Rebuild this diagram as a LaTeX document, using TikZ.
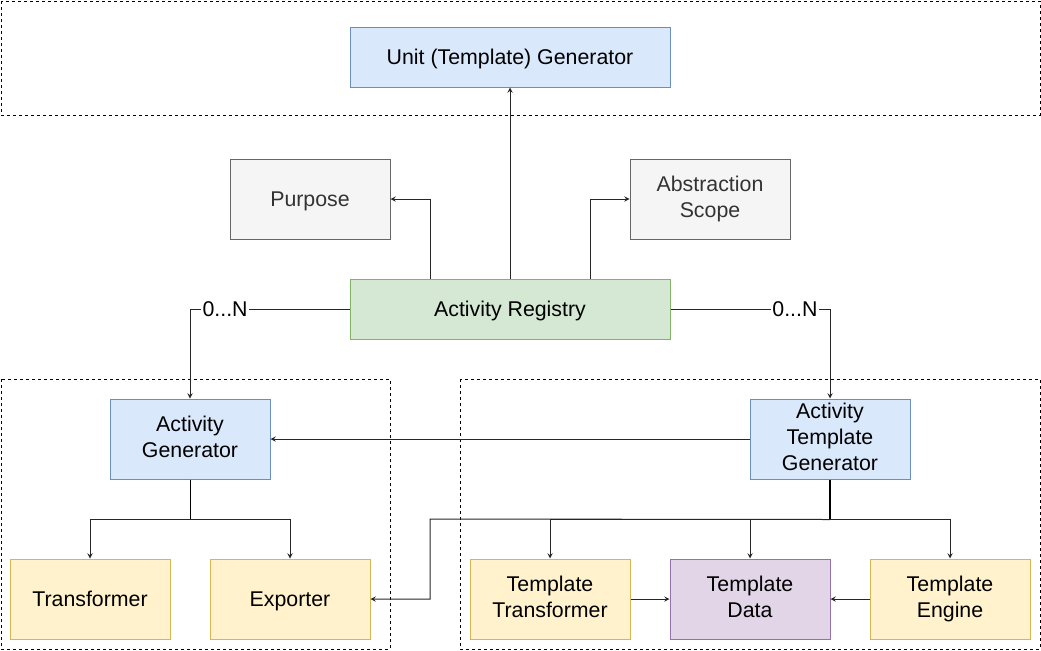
\documentclass[tikz,border=0pt]{standalone}
\usepackage{fontspec}
\setmainfont{Liberation Sans}
\usetikzlibrary{positioning}

\definecolor{blueFill}{HTML}{DAE8FC}
\definecolor{blueLine}{HTML}{6C8EBF}
\definecolor{grayFill}{HTML}{F5F5F5}
\definecolor{grayLine}{HTML}{666666}
\definecolor{greenFill}{HTML}{D5E8D4}
\definecolor{greenLine}{HTML}{82B366}
\definecolor{yellowFill}{HTML}{FFF2CC}
\definecolor{yellowLine}{HTML}{D6B656}
\definecolor{purpleFill}{HTML}{E1D5E7}
\definecolor{purpleLine}{HTML}{9673A6}

\tikzset{
  box/.style={draw, line width=0.75pt, minimum width=120pt, minimum height=60pt,
    align=center, inner sep=2pt, font=\fontsize{16}{19.5}\selectfont,
    execute at begin node={\rule{0pt}{14.5pt}}, execute at end node={\vphantom{Ay}}},
  widebox/.style={minimum width=240pt, minimum height=45pt},
  bluebox/.style={box, fill=blueFill, draw=blueLine},
  graybox/.style={box, fill=grayFill, draw=grayLine, text=black!80},
  greenbox/.style={box, fill=greenFill, draw=greenLine},
  yellowbox/.style={box, fill=yellowFill, draw=yellowLine},
  purplebox/.style={box, fill=purpleFill, draw=purpleLine},
  group/.style={draw, line width=0.75pt, dash pattern=on 2.25pt off 2.25pt},
  link/.style={->, >=stealth, line width=0.75pt, draw=black!85},
  card/.style={fill=white, inner sep=1pt, font=\fontsize{16}{19}\selectfont}
}

\begin{document}
\begin{tikzpicture}[x=0.75pt,y=-0.75pt]
\useasboundingbox (0,0) rectangle (1041,650);
% groups
\draw[group] (1,1) rectangle (1040,115);
\draw[group] (1,379) rectangle (390,649);
\draw[group] (460,379) rectangle (1040,649);

% boxes
\node[bluebox,widebox] (unit) at (510,57) {Unit (Template) Generator};
\node[graybox] (purpose) at (310,199) {Purpose};
\node[graybox] (scope) at (710,199) {Abstraction\\Scope};
\node[greenbox,widebox] (registry) at (510,309) {Activity Registry};
\node[bluebox] (actgen) at (190,439) {Activity\\Generator};
\node[bluebox] (tplgen) at (830,439) {Activity\\Template\\Generator};
\node[yellowbox] (transformer) at (90,599) {Transformer};
\node[yellowbox] (exporter) at (290,599) {Exporter};
\node[yellowbox] (tpltransformer) at (550,599) {Template\\Transformer};
\node[purplebox] (tpldata) at (750,599) {Template\\Data};
\node[yellowbox] (tplengine) at (950,599) {Template\\Engine};

% joints
\coordinate[below=30pt of actgen.south] (agjoin);
\coordinate[below=30pt of tplgen.south] (tgjoin);
\coordinate (bend) at (430,519);

% links
\draw[link] (registry) -- (unit);
\draw[link] ([xshift=-60pt]registry.north) |- (purpose);
\draw[link] ([xshift=60pt]registry.north) |- (scope);
\draw[link] (registry) -| node[card,pos=0.39] {0...N} (actgen);
\draw[link] (registry) -| node[card,pos=0.39] {0...N} (tplgen);
\draw[link] (tplgen) -- (actgen);
\draw[line width=0.75pt] (actgen) -- (agjoin);
\draw[link] (agjoin) -| (transformer);
\draw[link] (agjoin) -| (exporter);
\draw[line width=1.1pt] (tplgen) -- (tgjoin);
\draw[link] (tgjoin) -| (tpltransformer);
\draw[link] (tgjoin) -| (tpldata);
\draw[link] (tgjoin) -| (tplengine);
\draw[link] (tgjoin) -- (bend) |- (exporter);
\draw[link] (tpltransformer) -- (tpldata);
\draw[link] (tplengine) -- (tpldata);
\end{tikzpicture}
\end{document}
